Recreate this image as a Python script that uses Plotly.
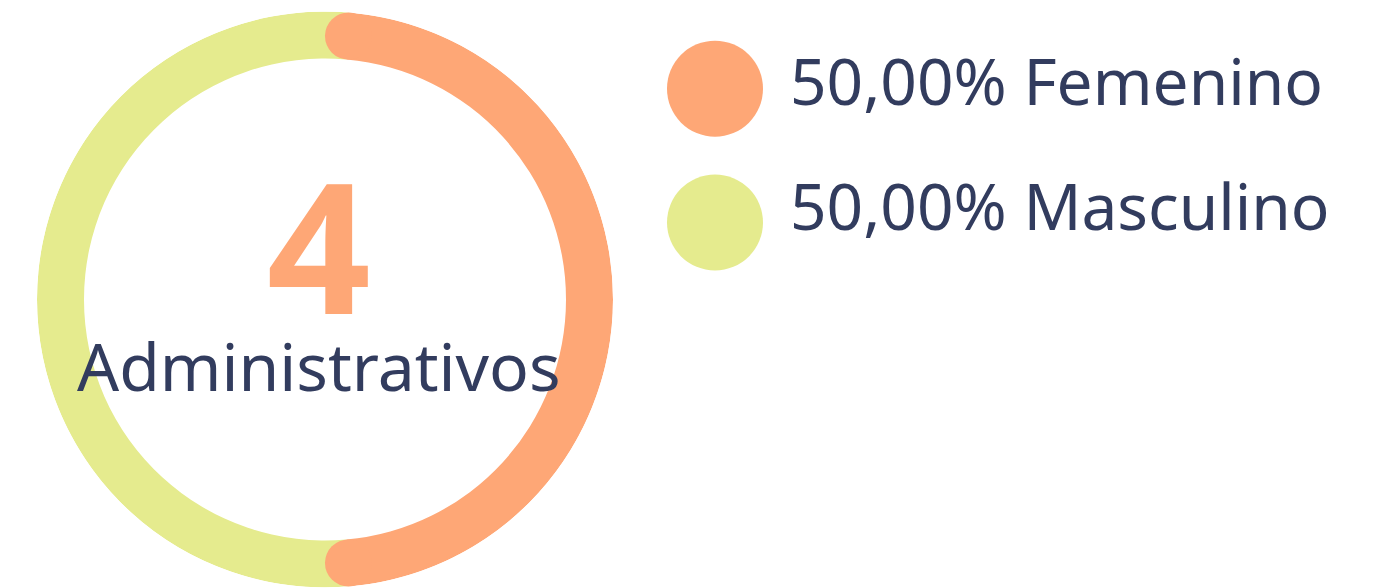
import numpy as np
import plotly.graph_objects as go

# datos
labels = ["Femenino", "Masculino"]
values = [2, 2]
colors = ["#FEA776", "#E5EB8E"]
center_label = "Administrativos"

W, H = 1384, 588
OFF = 8                      # margen del <body> de la página
CX, CY = 325, 299.5          # centro del anillo (px de pantalla)
R_OUT, R_IN = 288, 241
TEXT = "#323C5E"
FONT = "Noto Sans"

total = sum(values)
shares = [v / total for v in values]
thick = R_OUT - R_IN
r_mid = (R_OUT + R_IN) / 2
cap_deg = float(np.degrees(thick / 2 / r_mid))
starts = np.cumsum([0] + shares[:-1]) * 360

fig = go.Figure()

# anillo: la primera serie va encima con extremos redondeados
for i in reversed(range(len(values))):
    span = shares[i] * 360
    if i == 0:
        a0, a1 = starts[i] + cap_deg, starts[i] + span - cap_deg
    else:
        a0, a1 = starts[i] - cap_deg, starts[i] + span + cap_deg
    fig.add_trace(go.Barpolar(
        theta=[(a0 + a1) / 2], width=[a1 - a0], r=[thick], base=[R_IN],
        marker=dict(color=colors[i], line=dict(width=0)),
        name=labels[i], showlegend=False, hoverinfo="skip",
    ))
    if i == 0:
        fig.add_trace(go.Scatterpolar(
            theta=[a0, a1], r=[r_mid, r_mid], mode="markers",
            marker=dict(size=thick, color=colors[i], line=dict(width=0)),
            showlegend=False, hoverinfo="skip",
        ))

# leyenda
LEG_X, LEG_Y0, LEG_DY = 715, 88.7, 133.8
TXT_X, TXT_Y0, TXT_DY = 788, 80, 125
leg_y = [LEG_Y0 + k * LEG_DY for k in range(len(labels))]
fig.add_trace(go.Scatter(
    x=[LEG_X] * len(labels), y=leg_y, mode="markers",
    marker=dict(size=96, color=colors, line=dict(width=0)),
    showlegend=False, hoverinfo="skip",
))

annotations = []
for k, (lab, sh) in enumerate(zip(labels, shares)):
    pct = f"{sh * 100:.2f}".replace(".", ",")
    annotations.append(dict(
        x=TXT_X, y=TXT_Y0 + k * TXT_DY, xref="x", yref="y",
        text=f"{pct}% {lab}", showarrow=False,
        xanchor="left", yanchor="middle",
        font=dict(family=FONT, size=64, color=TEXT),
    ))

# total + etiqueta en el centro (un solo bloque de texto)
center_text = (
    f"<span style='font-size:182px;color:{colors[0]};font-weight:bold'>{total}</span>"
    f"<br><span style='font-size:66px'>{center_label}</span>"
)
annotations.append(dict(
    x=319, y=264, xref="x", yref="y", text=center_text, showarrow=False,
    xanchor="center", yanchor="middle", align="center",
    font=dict(family=FONT, size=59, color=TEXT),
))

fig.update_layout(
    width=W, height=H,
    margin=dict(l=0, r=0, t=0, b=0),
    paper_bgcolor="white", plot_bgcolor="rgba(0,0,0,0)",
    polar=dict(
        domain=dict(x=[(CX - OFF - R_OUT) / W, (CX - OFF + R_OUT) / W],
                    y=[(H - (CY - OFF) - R_OUT) / H, (H - (CY - OFF) + R_OUT) / H]),
        radialaxis=dict(range=[0, R_OUT], visible=False),
        angularaxis=dict(rotation=90, direction="clockwise", visible=False),
        bgcolor="rgba(0,0,0,0)", bargap=0,
    ),
    xaxis=dict(range=[OFF, OFF + W], visible=False, fixedrange=True),
    yaxis=dict(range=[OFF + H, OFF], visible=False, fixedrange=True),
    annotations=annotations,
    showlegend=False,
)

fig.write_html("out.html")
